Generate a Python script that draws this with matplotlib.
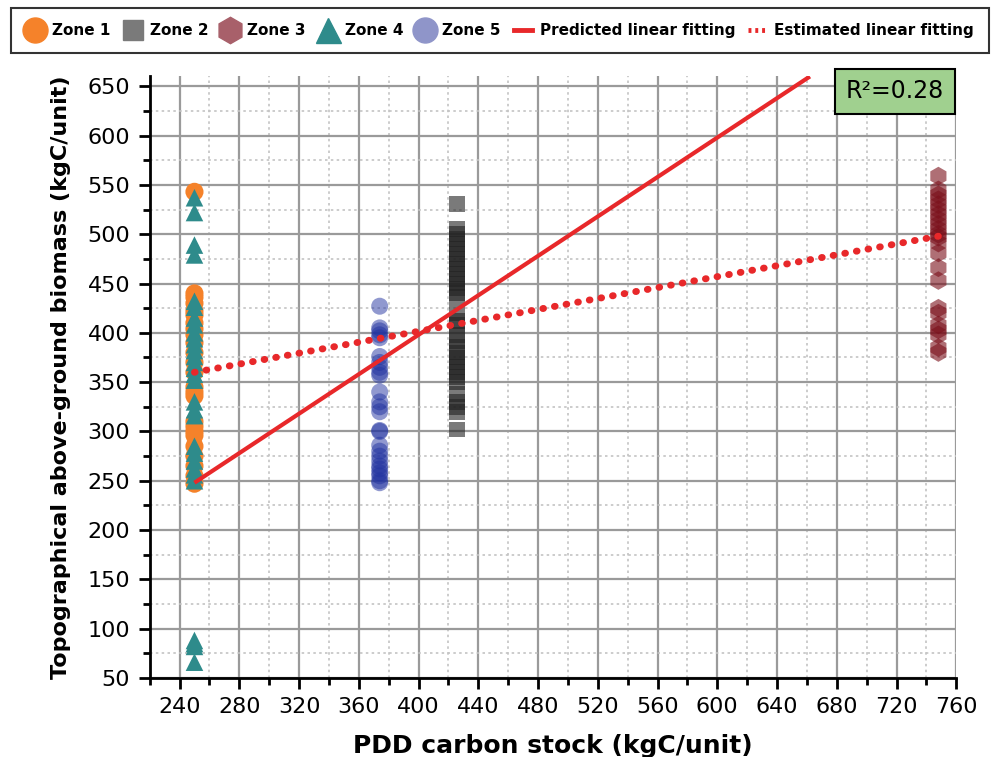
import matplotlib.pyplot as plt
from matplotlib.ticker import MultipleLocator
from matplotlib.lines import Line2D

plt.rcParams['font.family'] = ['DejaVu Sans']

# x position (PDD carbon stock) of each zone
zone_x = {"Zone 1": 250, "Zone 2": 426, "Zone 3": 748, "Zone 4": 250, "Zone 5": 374}

# topographical above-ground biomass values
zone1_y = [543, 440, 436, 430, 422, 418, 410, 404, 398, 390, 380, 370, 360,
           345, 340, 336, 310, 305, 300, 296, 285, 275, 265, 255, 247]
zone2_y = [531, 505, 500, 495, 490, 485, 480, 475, 470, 465, 460, 455, 450,
           445, 440, 436, 420, 412, 408, 398, 392, 386, 380, 375, 370, 365,
           360, 355, 350, 338, 330, 325, 320, 302]
zone3_y = [559, 545, 540, 535, 530, 525, 520, 515, 510, 505, 500, 497, 491,
           481, 466, 453, 425, 420, 408, 403, 398, 385, 380]
zone4_y = [537, 522, 489, 479, 432, 426, 415, 408, 400, 394, 388, 382, 376,
           370, 364, 358, 352, 330, 322, 316, 285, 278, 270, 262, 256, 250,
           88, 85, 82, 66]
zone5_y = [427, 405, 402, 398, 395, 376, 370, 365, 360, 357, 340, 330, 325,
           320, 301, 300, 286, 280, 275, 270, 265, 262, 258, 255, 250, 248]

pred_x = [250, 662]
pred_y = [248, 660]
est_x = [250, 748]
est_y = [360, 498]
r2_text = "R²=0.28"

fig = plt.figure(figsize=(9.91, 7.57), dpi=100)
ax = fig.add_axes([0.151, 0.1044, 0.814, 0.7946])

ax.scatter([zone_x["Zone 1"]] * len(zone1_y), zone1_y, marker="o", s=170,
           color="#f5822a", edgecolors="none", zorder=3)
ax.scatter([zone_x["Zone 4"]] * len(zone4_y), zone4_y, marker="^", s=160,
           color="#2e8b8b", edgecolors="none", zorder=4)
ax.scatter([zone_x["Zone 5"]] * len(zone5_y), zone5_y, marker="o", s=150,
           color="#2233a0", alpha=0.5, edgecolors="none", zorder=3)
ax.scatter([zone_x["Zone 2"]] * len(zone2_y), zone2_y, marker="s", s=130,
           color="#222222", alpha=0.6, edgecolors="none", zorder=3)
ax.scatter([zone_x["Zone 3"]] * len(zone3_y), zone3_y, marker="h", s=180,
           color="#7a0f1a", alpha=0.6, edgecolors="none", zorder=3)

ax.plot(pred_x, pred_y, color="#e8282a", lw=3, zorder=5, solid_capstyle="butt")
ax.plot(est_x, est_y, color="#e8282a", lw=5, zorder=5,
        linestyle=(0, (0.1, 1.6)), dash_capstyle="round")

ax.set_xlim(220, 760)
ax.set_ylim(50, 660)
ax.xaxis.set_major_locator(MultipleLocator(40))
ax.xaxis.set_minor_locator(MultipleLocator(20))
ax.yaxis.set_major_locator(MultipleLocator(50))
ax.yaxis.set_minor_locator(MultipleLocator(25))
ax.set_xticks(range(240, 761, 40))
ax.set_yticks(range(50, 651, 50))

ax.grid(which="major", color="#9a9a9a", lw=1.6, zorder=0)
ax.grid(which="minor", color="#c4c4c4", lw=1.2, linestyle=(0, (1.5, 2)), zorder=0)
ax.set_axisbelow(True)

for s in ["top", "right"]:
    ax.spines[s].set_visible(False)
for s in ["left", "bottom"]:
    ax.spines[s].set_linewidth(2)
ax.tick_params(which="major", direction="out", length=8, width=2, labelsize=16, pad=6)
ax.tick_params(which="minor", direction="out", length=5, width=2)

ax.set_xlabel("PDD carbon stock (kgC/unit)", fontsize=18, fontweight="bold", labelpad=12)
ax.set_ylabel("Topographical above-ground biomass (kgC/unit)", fontsize=16,
              fontweight="bold", labelpad=12)

ax.text(0.924, 0.975, r2_text, transform=ax.transAxes, ha="center", va="center",
        fontsize=17, clip_on=False, zorder=10,
        bbox=dict(boxstyle="square,pad=0.45", fc="#a0d08f", ec="black", lw=1.5))

handles = [
    Line2D([], [], marker="o", ls="none", color="#f5822a", ms=18),
    Line2D([], [], marker="s", ls="none", color="#7a7a7a", ms=15),
    Line2D([], [], marker="h", ls="none", color="#a8606a", ms=19),
    Line2D([], [], marker="^", ls="none", color="#2e8b8b", ms=18),
    Line2D([], [], marker="o", ls="none", color="#8f95c9", ms=18),
    Line2D([], [], color="#e8282a", lw=3.5),
    Line2D([], [], color="#e8282a", lw=3.5, ls=(0, (0.6, 0.8))),
]
labels = ["Zone 1", "Zone 2", "Zone 3", "Zone 4", "Zone 5",
          "Predicted linear fitting", "Estimated linear fitting"]
leg = fig.legend(handles, labels, loc="upper left", bbox_to_anchor=(0.008, 0.994),
                 ncol=7, frameon=True, fancybox=False, edgecolor="black",
                 prop=dict(weight="bold", size=11), handlelength=1.2,
                 handletextpad=0.5, columnspacing=0.85, borderpad=1.0,
                 borderaxespad=0.2)
leg.get_frame().set_linewidth(1.5)

fig.savefig("out.png", dpi=100)
